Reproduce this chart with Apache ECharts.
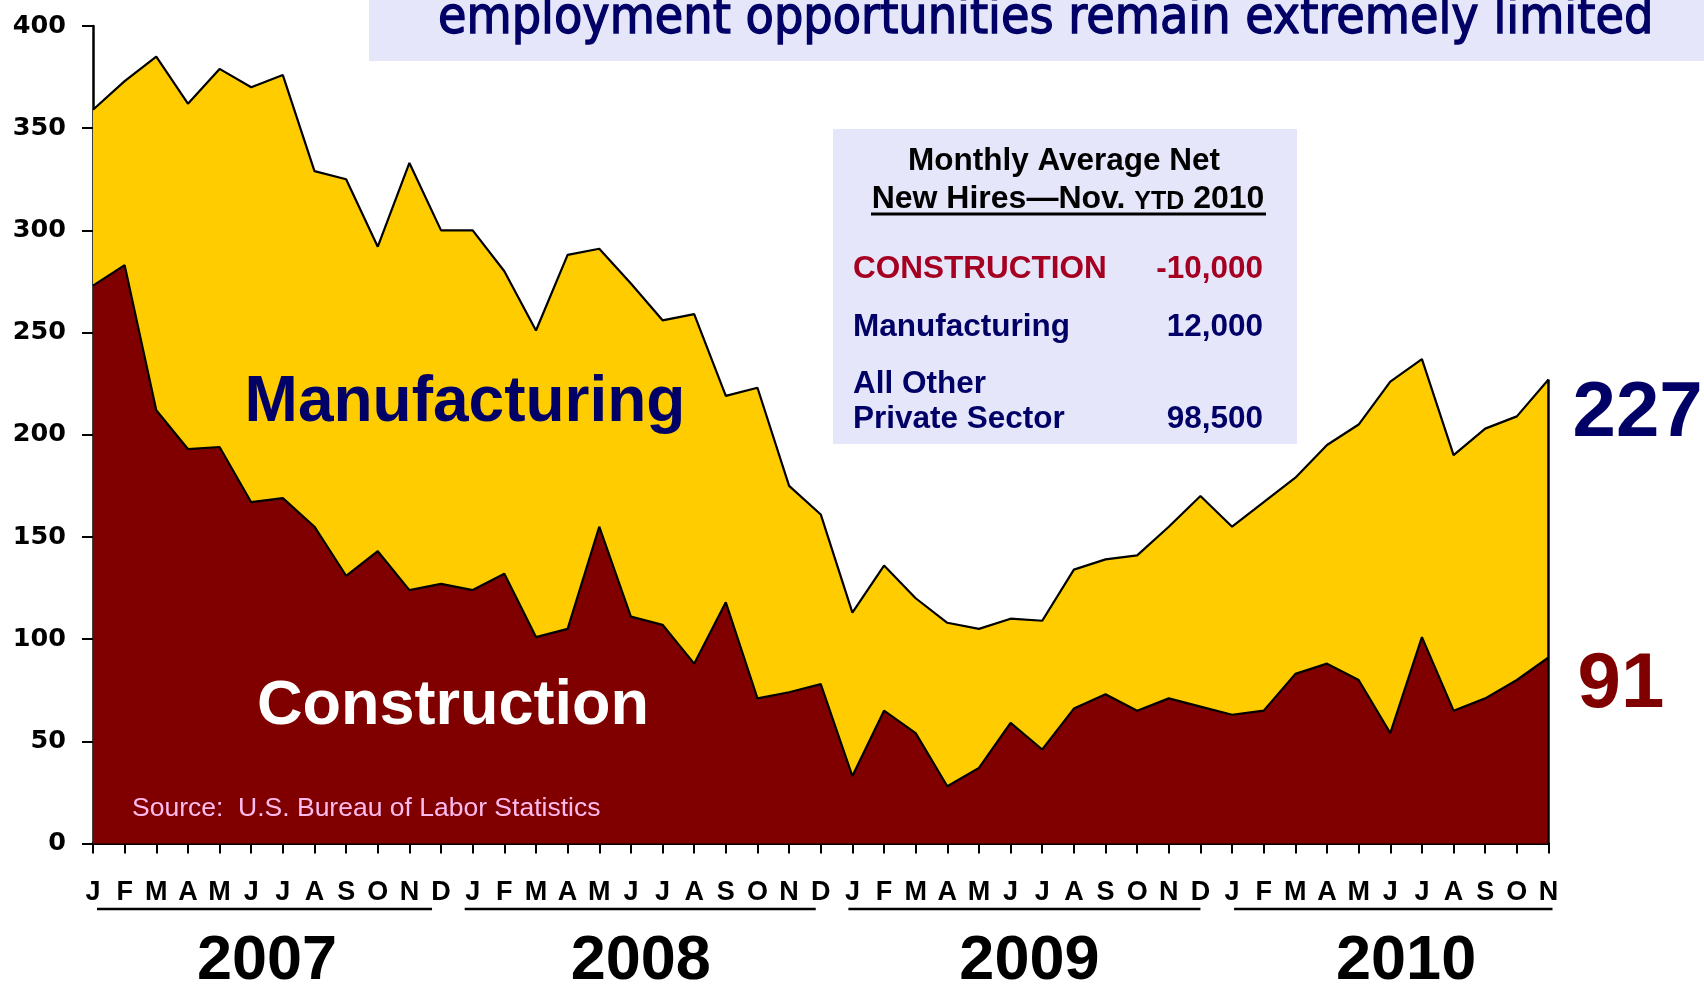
<!DOCTYPE html>
<html>
<head>
<meta charset="utf-8">
<script src="https://cdn.jsdelivr.net/npm/echarts@6/dist/echarts.min.js"></script>
<style>
  html, body { margin: 0; padding: 0; background: #ffffff; }
  #chart { width: 1704px; height: 985px; }
</style>
</head>
<body>
<div id="chart"></div>
<script>
// Month initials and years shown along the bottom axis
const monthLetters = ['J', 'F', 'M', 'A', 'M', 'J', 'J', 'A', 'S', 'O', 'N', 'D'];
const years = ['2007', '2008', '2009', '2010'];
const monthsPerYear = [12, 12, 12, 11];

// Monthly net new hires (thousands), Jan 2007 - Nov 2010
const construction = [
  273, 283, 212, 193, 194, 167, 169, 155, 131, 143, 124, 127,
  124, 132, 101, 105, 155, 111, 107, 88, 118, 71, 74, 78,
  33, 65, 54, 28, 37, 59, 46, 66, 73, 65, 71, 67,
  63, 65, 83, 88, 80, 54, 101, 65, 71, 80, 91
];
const manufacturing = [
  86, 90, 173, 169, 185, 203, 207, 174, 194, 149, 209, 173,
  176, 148, 150, 183, 136, 163, 149, 171, 101, 152, 101, 83,
  80, 71, 66, 80, 68, 51, 63, 68, 66, 76, 84, 103,
  92, 102, 96, 107, 125, 172, 136, 125, 132, 129, 136
];

// Value axis ticks
const yMin = 0, yMax = 400, yStep = 50;

// Summary panel rows: label, value, colour
const summaryTitle = ['Monthly Average Net', 'New Hires\u2014Nov. ', 'YTD', ' 2010'];
const summaryRows = [
  { label: 'CONSTRUCTION', value: '-10,000', color: '#A50021' },
  { label: 'Manufacturing', value: '12,000', color: '#000066' },
  { label: 'All Other\nPrivate Sector', value: '98,500', color: '#000066' }
];

const headline = 'employment opportunities remain extremely limited';
const sourceNote = 'Source:  U.S. Bureau of Labor Statistics';

const categories = [];
years.forEach((y, k) => {
  for (let m = 0; m < monthsPerYear[k]; m++) categories.push(monthLetters[m] + ' ' + y);
});

const YELLOW = '#FFCC00';
const MAROON = '#800000';
const NAVY = '#000066';
const LAVENDER = '#E6E6FA';
const SANS = "'Liberation Sans', Arial, sans-serif";

const lastIdx = categories.length - 1;
const lastTotal = construction[lastIdx] + manufacturing[lastIdx];

const chart = echarts.init(document.getElementById('chart'), null, { renderer: 'canvas' });

const option = {
  animation: false,
  backgroundColor: '#ffffff',
  grid: { left: 93, right: 155.5, top: 26, bottom: 141.5, containLabel: false },
  xAxis: {
    type: 'category',
    data: categories,
    boundaryGap: false,
    axisLine: { show: true, lineStyle: { color: '#000', width: 3 } },
    axisTick: { show: true, interval: 0, length: 10, lineStyle: { color: '#000', width: 2 } },
    axisLabel: {
      interval: 0,
      margin: 36,
      formatter: v => v.charAt(0),
      color: '#000',
      fontFamily: "'Liberation Sans Narrow', 'Arial Narrow', 'Liberation Sans', sans-serif",
      fontWeight: 'bold',
      fontSize: 27
    },
    splitLine: { show: false }
  },
  yAxis: {
    type: 'value',
    min: yMin,
    max: yMax,
    interval: yStep,
    axisLine: { show: true, lineStyle: { color: '#000', width: 2.5 } },
    axisTick: { show: true, length: 11, lineStyle: { color: '#000', width: 2 } },
    axisLabel: {
      margin: 27,
      color: '#000',
      fontFamily: "'DejaVu Sans', Verdana, sans-serif",
      fontWeight: 'bold',
      fontSize: 25.5
    },
    splitLine: { show: false }
  },
  series: [
    {
      name: 'Construction',
      type: 'line',
      stack: 'hires',
      data: construction,
      symbol: 'none',
      z: 4,
      lineStyle: { color: '#000', width: 2.2 },
      areaStyle: { color: MAROON, opacity: 1 }
    },
    {
      name: 'Manufacturing',
      type: 'line',
      stack: 'hires',
      data: manufacturing,
      symbol: 'none',
      z: 3,
      lineStyle: { color: '#000', width: 2.2 },
      areaStyle: { color: YELLOW, opacity: 1 },
      markLine: {
        silent: true,
        symbol: 'none',
        label: { show: false },
        lineStyle: { color: '#000', width: 2.5, type: 'solid' },
        data: [[{ coord: [lastIdx, 0] }, { coord: [lastIdx, lastTotal] }]]
      }
    }
  ]
};

chart.setOption(option);

// Overlay text and decorations placed from the axis scale
const px = (i, v) => chart.convertToPixel({ xAxisIndex: 0, yAxisIndex: 0 }, [i, v]);
const x0 = px(0, 0)[0];
const step = px(1, 0)[0] - x0;
const xAt = i => x0 + i * step;

const graphics = [];

// Headline band
graphics.push({
  type: 'rect', z: 10,
  shape: { x: 369, y: 0, width: 1335, height: 61 },
  style: { fill: LAVENDER }
});
graphics.push({
  type: 'text', z: 11, x: 438, y: 20,
  style: {
    text: headline, fill: NAVY, stroke: NAVY, lineWidth: 1.3,
    font: "51.5px 'DejaVu Sans Condensed', 'DejaVu Sans', sans-serif",
    align: 'left', verticalAlign: 'middle'
  }
});

// Summary panel
graphics.push({
  type: 'rect', z: 10,
  shape: { x: 833, y: 129, width: 464, height: 315 },
  style: { fill: LAVENDER }
});
graphics.push({
  type: 'text', z: 11, x: 1064, y: 161,
  style: {
    text: summaryTitle[0], fill: '#000',
    font: 'bold 31.5px ' + SANS, align: 'center', verticalAlign: 'middle'
  }
});
graphics.push({
  type: 'text', z: 11, x: 1068, y: 198,
  style: {
    text: '{a|' + summaryTitle[1] + '}{b|' + summaryTitle[2] + '}{a|' + summaryTitle[3] + '}',
    align: 'center', verticalAlign: 'middle',
    rich: {
      a: { fontFamily: SANS, fontWeight: 'bold', fontSize: 32, fill: '#000', color: '#000', verticalAlign: 'bottom', lineHeight: 34 },
      b: { fontFamily: SANS, fontWeight: 'bold', fontSize: 25, fill: '#000', color: '#000', verticalAlign: 'bottom', lineHeight: 31 }
    }
  }
});
graphics.push({
  type: 'line', z: 11,
  shape: { x1: 871, y1: 214, x2: 1266, y2: 214 },
  style: { stroke: '#000', lineWidth: 3 }
});
const rowY = [269, 327, 419];
summaryRows.forEach((r, k) => {
  const lines = r.label.split('\n');
  lines.forEach((ln, j) => {
    graphics.push({
      type: 'text', z: 11, x: 853, y: rowY[k] - (lines.length - 1 - j) * 34.5,
      style: { text: ln, fill: r.color, font: 'bold 31.5px ' + SANS, align: 'left', verticalAlign: 'middle' }
    });
  });
  graphics.push({
    type: 'text', z: 11, x: 1263, y: rowY[k],
    style: { text: r.value, fill: r.color, font: 'bold 31.5px ' + SANS, align: 'right', verticalAlign: 'middle' }
  });
});

// Area labels and source note
graphics.push({
  type: 'text', z: 11, x: 465, y: 403,
  style: { text: 'Manufacturing', fill: NAVY, font: 'bold 64px ' + SANS, align: 'center', verticalAlign: 'middle' }
});
graphics.push({
  type: 'text', z: 11, x: 453, y: 707,
  style: { text: 'Construction', fill: '#ffffff', font: 'bold 63px ' + SANS, align: 'center', verticalAlign: 'middle' }
});
graphics.push({
  type: 'text', z: 11, x: 132, y: 809,
  style: { text: sourceNote, fill: '#FFBBEE', font: '26.5px ' + SANS, align: 'left', verticalAlign: 'middle' }
});

// Latest values beside the right edge
const pTop = px(lastIdx, lastTotal);
const pCon = px(lastIdx, construction[lastIdx]);
graphics.push({
  type: 'text', z: 11, x: pTop[0] + 24, y: pTop[1] + 35,
  style: { text: String(lastTotal), fill: NAVY, font: 'bold 78px ' + SANS, align: 'left', verticalAlign: 'middle' }
});
graphics.push({
  type: 'text', z: 11, x: pCon[0] + 29, y: pCon[1] + 28,
  style: { text: String(construction[lastIdx]), fill: MAROON, font: 'bold 78px ' + SANS, align: 'left', verticalAlign: 'middle' }
});

// Year underlines (hand-set overhang at each end) and year labels
const underlineStart = [4, -8, -4, 2];
const underlineEnd = [-9, -5, 0, 4];
let start = 0;
years.forEach((y, k) => {
  const last = start + monthsPerYear[k] - 1;
  graphics.push({
    type: 'line', z: 11,
    shape: { x1: xAt(start) + underlineStart[k], y1: 909, x2: xAt(last) + underlineEnd[k], y2: 909 },
    style: { stroke: '#000', lineWidth: 2.5 }
  });
  graphics.push({
    type: 'text', z: 11, x: xAt(start) + 5.5 * step - (k === 1 ? 6 : 0) + (k === 2 ? 3 : 0), y: 962,
    style: { text: y, fill: '#000', font: 'bold 63px ' + SANS, align: 'center', verticalAlign: 'middle' }
  });
  start += monthsPerYear[k];
});

chart.setOption({ graphic: graphics });
</script>
</body>
</html>
